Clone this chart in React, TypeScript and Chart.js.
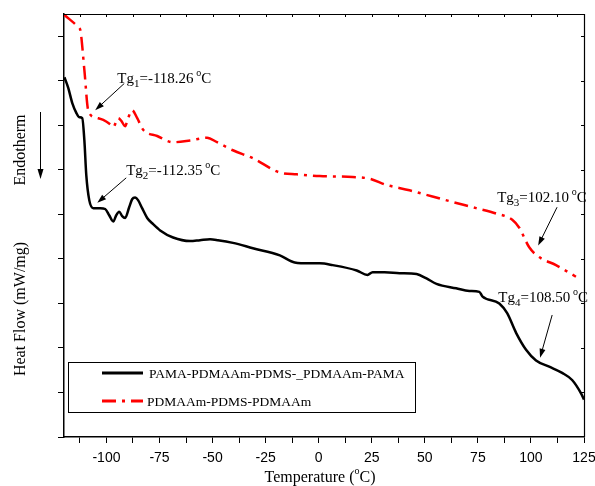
import React, { useEffect, useRef } from "react";
import { Chart, registerables } from "chart.js";

Chart.register(...registerables);

// ---- data ----
const xMajorTicks = [-100, -75, -50, -25, 0, 25, 50, 75, 100, 125];
const xMinorTicks = [-112.5, -87.5, -62.5, -37.5, -12.5, 12.5, 37.5, 62.5, 87.5, 112.5];
const yTicks = [0, 0.5, 1, 1.5, 2, 2.5, 3, 3.5, 4, 4.5];

const seriesNames = ["PAMA-PDMAAm-PDMS-_PDMAAm-PAMA", "PDMAAm-PDMS-PDMAAm"];

const tempPAMA = [
  -119.8, -118.0, -116.1, -114.2, -112.8, -111.4, -110.4, -109.5, -108.1, -106.2,
  -102.9, -100.6, -98.7, -96.8, -95.4, -94.0, -92.6, -91.2, -89.3, -87.9,
  -86.5, -85.1, -83.2, -80.8, -78.0, -74.7, -68.6, -60.6, -55.9, -51.2,
  -47.5, -40.4, -31.0, -18.3, -11.3, -4.2, 0.5, 6.6, 17.9, 23.0,
  25.4, 31.0, 38.1, 46.1, 50.8, 55.5, 64.8, 71.0, 75.7, 77.1,
  85.1, 88.8, 93.0, 97.7, 102.4, 108.6, 114.7, 119.4, 123.6, 125.0,
];
const heatPAMA = [
  4.04, 3.92, 3.75, 3.64, 3.59, 3.58, 3.33, 2.94, 2.66, 2.57,
  2.57, 2.56, 2.49, 2.42, 2.49, 2.53, 2.48, 2.46, 2.58, 2.67,
  2.69, 2.66, 2.57, 2.46, 2.39, 2.32, 2.24, 2.2, 2.21, 2.22,
  2.21, 2.18, 2.12, 2.04, 1.96, 1.95, 1.95, 1.93, 1.87, 1.82,
  1.85, 1.85, 1.84, 1.83, 1.78, 1.72, 1.67, 1.64, 1.63, 1.58,
  1.5, 1.39, 1.17, 0.98, 0.86, 0.79, 0.72, 0.64, 0.49, 0.42,
];

const tempPDMAAm = [
  -119.8, -112.8, -112.3, -110.4, -108.6, -105.3, -101.5, -98.2, -96.8, -94.5,
  -93.0, -91.2, -89.8, -87.9, -85.5, -82.7, -76.1, -68.6, -60.6, -52.6,
  -47.9, -40.4, -31.0, -18.3, -10.3, 0.5, 16.0, 24.0, 32.0, 42.8,
  53.6, 63.0, 74.2, 83.6, 91.2, 94.5, 99.2, 103.9, 111.8, 121.2,
];
const heatPDMAAm = [
  4.74, 4.59, 4.57, 4.12, 3.67, 3.59, 3.56, 3.51, 3.48, 3.58,
  3.55, 3.49, 3.58, 3.67, 3.58, 3.45, 3.38, 3.31, 3.33, 3.36,
  3.31, 3.22, 3.13, 2.97, 2.95, 2.93, 2.92, 2.9, 2.83, 2.77,
  2.7, 2.64, 2.57, 2.51, 2.44, 2.35, 2.13, 2.02, 1.93, 1.8,
];

// annotations: label parts, text anchor (data), arrow tail and head (data)
const tgLabels = [
  { sub: "1", value: "=-118.26 ", tx: -94.9, ty: 3.98, ax1: -91.6, ay1: 3.97, ax2: -105.3, ay2: 3.67 },
  { sub: "2", value: "=-112.35 ", tx: -90.7, ty: 2.94, ax1: -90.7, ay1: 2.91, ax2: -104.3, ay2: 2.63 },
  { sub: "3", value: "=102.10 ", tx: 84.1, ty: 2.64, ax1: 112.3, ay1: 2.58, ax2: 103.4, ay2: 2.15 },
  { sub: "4", value: "=108.50 ", tx: 84.6, ty: 1.52, ax1: 110.0, ay1: 1.37, ax2: 104.3, ay2: 0.89 },
];

const SERIF = "'Liberation Serif', 'Times New Roman', serif";
const SANS = "'Liberation Sans', Arial, sans-serif";

function zip(xs: number[], ys: number[]) {
  return xs.map((x, i) => ({ x, y: ys[i] }));
}

function arrow(ctx: CanvasRenderingContext2D, x1: number, y1: number, x2: number, y2: number, head = 8, half = 3) {
  const ang = Math.atan2(y2 - y1, x2 - x1);
  ctx.beginPath();
  ctx.moveTo(x1, y1);
  ctx.lineTo(x2 - Math.cos(ang) * head * 0.8, y2 - Math.sin(ang) * head * 0.8);
  ctx.stroke();
  ctx.beginPath();
  ctx.moveTo(x2, y2);
  ctx.lineTo(x2 - Math.cos(ang) * head - Math.sin(ang) * half, y2 - Math.sin(ang) * head + Math.cos(ang) * half);
  ctx.lineTo(x2 - Math.cos(ang) * head + Math.sin(ang) * half, y2 - Math.sin(ang) * head - Math.cos(ang) * half);
  ctx.closePath();
  ctx.fill();
}

const overlay = {
  id: "overlay",
  afterDraw(chart: any) {
    const ctx: CanvasRenderingContext2D = chart.ctx;
    const { left, right, top, bottom } = chart.chartArea;
    const xs = chart.scales.x;
    const ys = chart.scales.y;
    ctx.save();
    ctx.strokeStyle = "#000";
    ctx.fillStyle = "#000";

    // top and right frame with inward ticks
    ctx.lineWidth = 1.2;
    ctx.beginPath();
    ctx.moveTo(left, top + 0.5);
    ctx.lineTo(right + 0.5, top + 0.5);
    ctx.lineTo(right + 0.5, bottom);
    ctx.stroke();
    ctx.lineWidth = 1;
    ctx.beginPath();
    [...xMajorTicks, ...xMinorTicks].forEach((v) => {
      const px = Math.round(xs.getPixelForValue(v)) + 0.5;
      ctx.moveTo(px, top);
      ctx.lineTo(px, top + 3);
    });
    yTicks.forEach((v) => {
      if (v === 0) return;
      const py = Math.round(ys.getPixelForValue(v)) + 0.5;
      ctx.moveTo(right, py);
      ctx.lineTo(right - 3, py);
    });
    ctx.stroke();

    // Tg annotations
    tgLabels.forEach((a) => {
      let x = xs.getPixelForValue(a.tx);
      const y = ys.getPixelForValue(a.ty);
      ctx.textBaseline = "alphabetic";
      ctx.textAlign = "left";
      ctx.font = `15px ${SERIF}`;
      ctx.fillText("Tg", x, y);
      x += ctx.measureText("Tg").width;
      ctx.font = `11px ${SERIF}`;
      ctx.fillText(a.sub, x, y + 4);
      x += ctx.measureText(a.sub).width;
      ctx.font = `15px ${SERIF}`;
      ctx.fillText(a.value, x, y);
      x += ctx.measureText(a.value).width - 1;
      ctx.font = `10px ${SERIF}`;
      ctx.fillText("o", x, y - 7);
      x += ctx.measureText("o").width;
      ctx.font = `15px ${SERIF}`;
      ctx.fillText("C", x, y);
      ctx.lineWidth = 1;
      arrow(
        ctx,
        xs.getPixelForValue(a.ax1),
        ys.getPixelForValue(a.ay1),
        xs.getPixelForValue(a.ax2),
        ys.getPixelForValue(a.ay2),
        9,
        3
      );
    });

    // legend box
    const lx = 68, ly = 362, lw = 347, lh = 50;
    ctx.fillStyle = "#fff";
    ctx.fillRect(lx, ly, lw, lh);
    ctx.strokeStyle = "#000";
    ctx.lineWidth = 1;
    ctx.strokeRect(lx + 0.5, ly + 0.5, lw, lh);
    ctx.fillStyle = "#000";
    ctx.lineWidth = 3;
    ctx.beginPath();
    ctx.moveTo(102, 373);
    ctx.lineTo(143, 373);
    ctx.stroke();
    ctx.strokeStyle = "#ff0000";
    ctx.lineWidth = 3;
    ctx.setLineDash([14, 6, 3, 6]);
    ctx.beginPath();
    ctx.moveTo(102, 401);
    ctx.lineTo(143, 401);
    ctx.stroke();
    ctx.setLineDash([]);
    ctx.font = `13.5px ${SERIF}`;
    ctx.textBaseline = "middle";
    ctx.textAlign = "left";
    ctx.fillText(seriesNames[0], 149, 374);
    ctx.fillText(seriesNames[1], 147, 402);

    // axis titles
    ctx.font = `16px ${SERIF}`;
    ctx.textAlign = "center";
    ctx.textBaseline = "middle";
    ctx.save();
    ctx.translate(21, 309);
    ctx.rotate(-Math.PI / 2);
    ctx.fillText("Heat Flow (mW/mg)", 0, 0);
    ctx.restore();
    ctx.save();
    ctx.translate(21, 150);
    ctx.rotate(-Math.PI / 2);
    ctx.fillText("Endotherm", 0, 0);
    ctx.restore();
    ctx.strokeStyle = "#000";
    ctx.lineWidth = 1;
    arrow(ctx, 40.5, 112, 40.5, 179, 10, 3);

    // x title with superscript
    const p1 = "Temperature (", p3 = "C)";
    ctx.textAlign = "left";
    ctx.textBaseline = "alphabetic";
    ctx.font = `16px ${SERIF}`;
    const w1 = ctx.measureText(p1).width;
    const w3 = ctx.measureText(p3).width;
    ctx.font = `10px ${SERIF}`;
    const w2 = ctx.measureText("o").width;
    let tx = 320 - (w1 + w2 + w3) / 2;
    const ty = 482;
    ctx.font = `16px ${SERIF}`;
    ctx.fillText(p1, tx, ty);
    tx += w1;
    ctx.font = `10px ${SERIF}`;
    ctx.fillText("o", tx, ty - 8);
    tx += w2;
    ctx.font = `16px ${SERIF}`;
    ctx.fillText(p3, tx, ty);

    ctx.restore();
  },
};

export default function App() {
  const ref = useRef<HTMLCanvasElement | null>(null);

  useEffect(() => {
    document.body.style.margin = "0";
    if (!ref.current) return;
    const chart = new Chart(ref.current, {
      type: "line",
      data: {
        datasets: [
          {
            label: seriesNames[0],
            data: zip(tempPAMA, heatPAMA),
            borderColor: "#000000",
            borderWidth: 2.5,
            pointRadius: 0,
            cubicInterpolationMode: "monotone",
            fill: false,
          },
          {
            label: seriesNames[1],
            data: zip(tempPDMAAm, heatPDMAAm),
            borderColor: "#ff0000",
            borderWidth: 2.5,
            borderDash: [14, 6, 3, 6],
            pointRadius: 0,
            cubicInterpolationMode: "monotone",
            fill: false,
          },
        ],
      },
      options: {
        responsive: false,
        animation: false,
        layout: { padding: { top: 14, right: 11, left: 0, bottom: 0 } },
        plugins: {
          legend: { display: false },
          tooltip: { enabled: false },
          title: { display: false },
        },
        scales: {
          x: {
            type: "linear",
            min: -120,
            max: 125,
            position: "bottom",
            afterBuildTicks: (scale: any) => {
              scale.ticks = [...xMajorTicks, ...xMinorTicks]
                .sort((a, b) => a - b)
                .map((v) => ({ value: v }));
            },
            afterFit: (scale: any) => {
              scale.height = 49;
              scale.paddingLeft = 0;
              scale.paddingRight = 0;
            },
            ticks: {
              autoSkip: false,
              maxRotation: 0,
              padding: 7,
              color: "#000",
              font: { family: SANS, size: 14 },
              callback: (v: any) => (xMajorTicks.includes(Number(v)) ? String(v) : ""),
            },
            grid: { drawOnChartArea: false, tickLength: 6, color: "#000" },
            border: { color: "#000", width: 1.5 },
          },
          y: {
            type: "linear",
            min: 0,
            max: 4.75,
            position: "left",
            afterBuildTicks: (scale: any) => {
              scale.ticks = yTicks.map((v) => ({ value: v }));
            },
            afterFit: (scale: any) => {
              scale.width = 64;
              scale.paddingTop = 0;
              scale.paddingBottom = 0;
            },
            ticks: { callback: () => "", padding: 0 },
            grid: { drawOnChartArea: false, tickLength: 6, color: "#000" },
            border: { color: "#000", width: 1.5 },
          },
        },
      },
      plugins: [overlay],
    });
    return () => chart.destroy();
  }, []);

  return (
    <div style={{ width: 595, height: 486, background: "#fff" }}>
      <canvas ref={ref} width={595} height={486} style={{ display: "block" }} />
    </div>
  );
}
